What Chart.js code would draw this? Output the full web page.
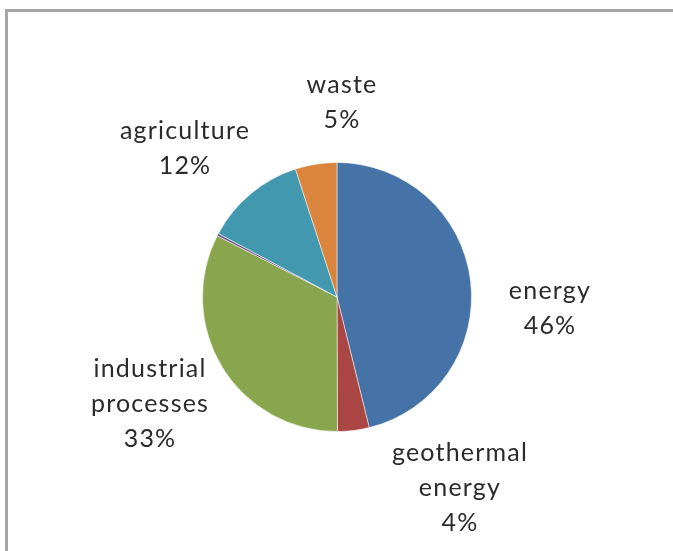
<!DOCTYPE html>
<html>
<head>
<meta charset="utf-8">
<script src="https://cdn.jsdelivr.net/npm/chart.js@4"></script>
<style>
    html, body { margin: 0; padding: 0; background: #fff; }
    #wrap { position: relative; width: 673px; height: 551px; }
</style>
</head>
<body>
<div id="wrap"><canvas id="emissionsPie" width="673" height="551"></canvas></div>
<script>
// =========================
// Data
// =========================
const categories = ['energy', 'geothermal energy', 'industrial processes', 'other', 'agriculture', 'waste'];
const shares = [46.2, 3.8, 32.6, 0.3, 12.2, 5.0];
const sliceColors = ['#4572A7', '#AA4643', '#89A54E', '#71588F', '#4198AF', '#DB843D'];

// label block offsets from the pie centre (null = no label)
const labelOffsets = [[213, 11], [123, 191], [-187, 107], null, [-152, -149], [5, -195]];

const frame = {
    id: 'frame',
    beforeDraw(chart) {
        const ctx = chart.ctx;
        ctx.save();
        ctx.strokeStyle = '#a6a6a6';
        ctx.lineWidth = 3;
        ctx.beginPath();
        ctx.moveTo(6.5, 551);
        ctx.lineTo(6.5, 10.5);
        ctx.lineTo(673, 10.5);
        ctx.stroke();
        ctx.restore();
    }
};

const sliceLabels = {
    id: 'sliceLabels',
    afterDraw(chart) {
        const ctx = chart.ctx;
        const meta = chart.getDatasetMeta(0);
        const values = chart.data.datasets[0].data;
        const total = values.reduce((a, b) => a + b, 0);
        const lineH = 35;
        ctx.save();
        ctx.font = '25px Lato, "Open Sans", sans-serif';
        ctx.letterSpacing = '1.2px';
        ctx.fillStyle = '#2b2b2b';
        ctx.textAlign = 'center';
        ctx.textBaseline = 'middle';
        meta.data.forEach((arc, i) => {
            const off = labelOffsets[i];
            if (!off) return;
            const lines = chart.data.labels[i].split(' ');
            lines.push(Math.round(values[i] / total * 100) + '%');
            const cx = arc.x + off[0];
            const cy = arc.y + off[1] - (lines.length - 1) * lineH / 2;
            lines.forEach((t, j) => ctx.fillText(t, cx, cy + j * lineH));
        });
        ctx.restore();
    }
};

new Chart(document.getElementById('emissionsPie').getContext('2d'), {
    type: 'pie',
    data: {
        labels: categories,
        datasets: [{
            data: shares,
            backgroundColor: sliceColors,
            borderColor: 'rgba(255,255,255,0.5)',
            borderWidth: 1
        }]
    },
    options: {
        responsive: false,
        animation: false,
        layout: { padding: { left: 202, right: 201, top: 162, bottom: 119 } },
        plugins: {
            legend: { display: false },
            tooltip: { enabled: false }
        }
    },
    plugins: [frame, sliceLabels]
});
</script>
</body>
</html>
